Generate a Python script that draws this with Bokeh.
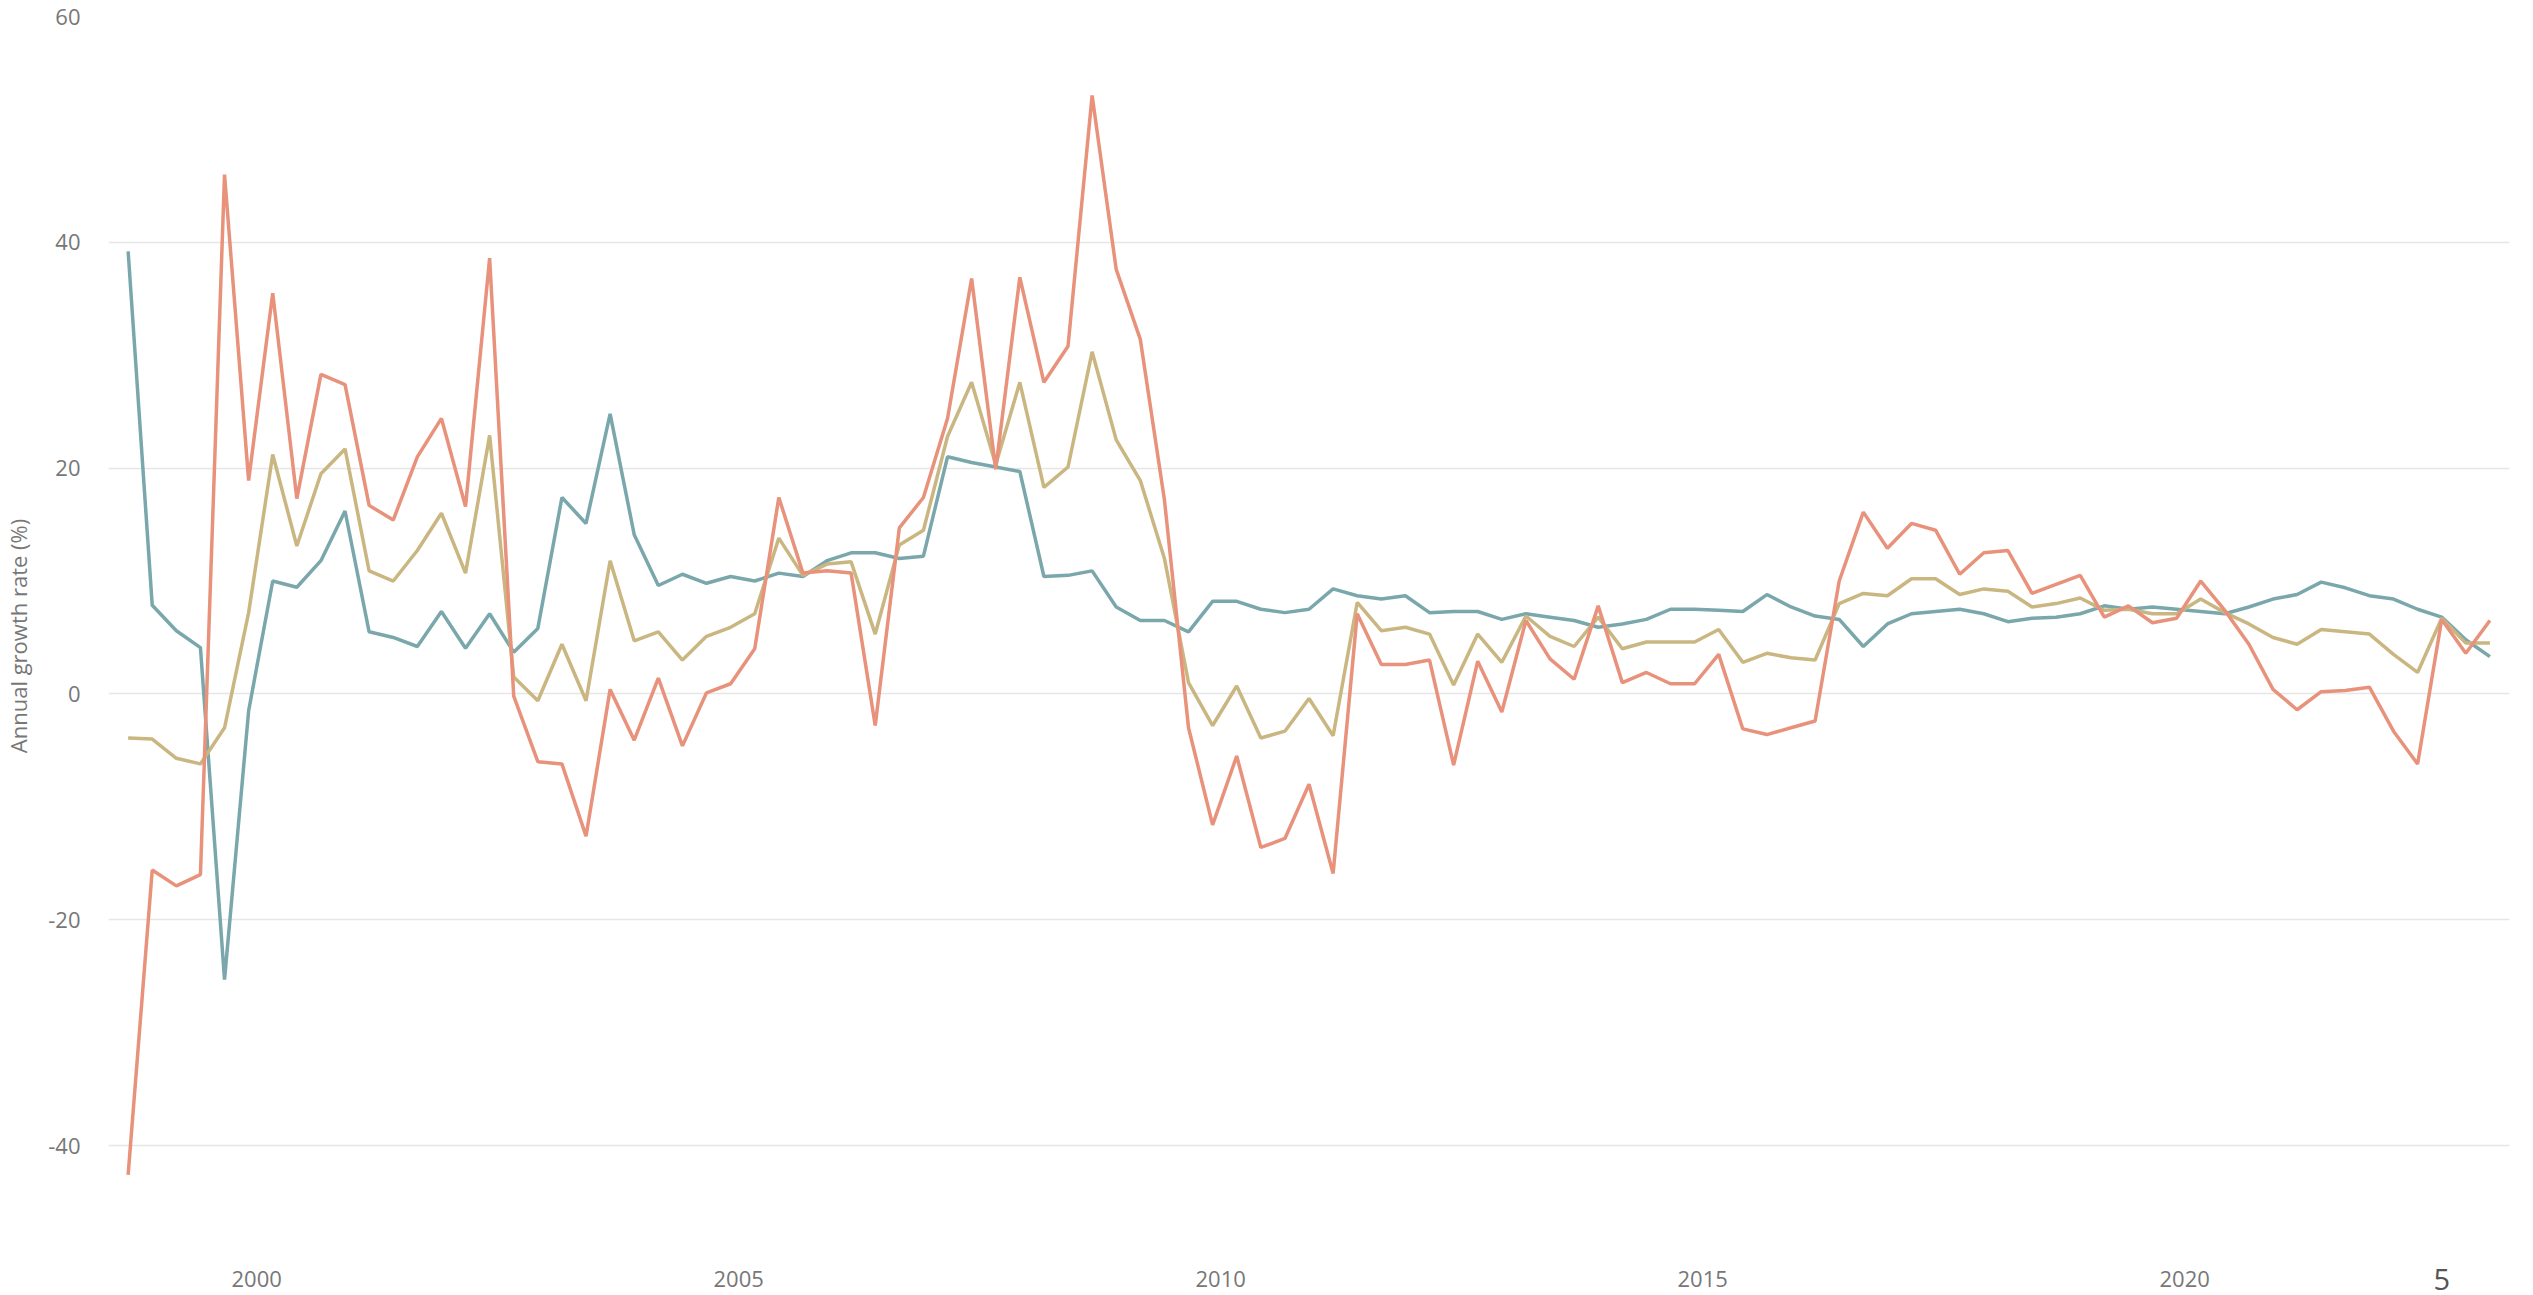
import pandas as pd
from bokeh.plotting import figure
from bokeh.models import FixedTicker, Range1d, LinearAxis, ColumnDataSource
from bokeh.embed import file_html
from bokeh.resources import INLINE

# Quarterly observations, Sep 1998 .. Mar 2023
quarters = pd.date_range("1998-09-01", periods=99, freq="3MS")

series_teal = [
    39.2, 7.85, 5.6, 4.1, -25.3, -1.5, 10.0, 9.45, 11.8, 16.2,
    5.5, 5.0, 4.2, 7.3, 4.05, 7.1, 3.7, 5.8, 17.4, 15.1,
    24.8, 14.1, 9.6, 10.6, 9.8, 10.4, 10.0, 10.7, 10.4, 11.8,
    12.5, 12.5, 12.0, 12.2, 21.0, 20.5, 20.1, 19.7, 10.4, 10.5,
    10.9, 7.7, 6.5, 6.5, 5.5, 8.2, 8.2, 7.5, 7.2, 7.5,
    9.3, 8.7, 8.4, 8.7, 7.2, 7.3, 7.3, 6.6, 7.1, 6.8,
    6.5, 5.9, 6.2, 6.6, 7.5, 7.5, 7.4, 7.3, 8.8, 7.7,
    6.9, 6.6, 4.2, 6.2, 7.1, 7.3, 7.5, 7.1, 6.4, 6.7,
    6.8, 7.1, 7.8, 7.5, 7.7, 7.5, 7.3, 7.1, 7.7, 8.4,
    8.8, 9.9, 9.4, 8.7, 8.4, 7.5, 6.8, 4.8, 3.3,
]

series_salmon = [
    -42.6, -15.6, -17.0, -16.0, 46.0, 18.9, 35.5, 17.3, 28.3, 27.4,
    16.7, 15.4, 21.0, 24.4, 16.6, 38.6, -0.2, -6.0, -6.2, -12.6,
    0.4, -4.1, 1.4, -4.6, 0.1, 0.9, 4.0, 17.4, 10.7, 10.9,
    10.7, -2.8, 14.7, 17.4, 24.4, 36.8, 19.9, 36.9, 27.6, 30.8,
    53.0, 37.6, 31.4, 17.2, -3.0, -11.6, -5.5, -13.6, -12.8, -8.0,
    -15.9, 7.1, 2.6, 2.6, 3.0, -6.3, 2.9, -1.6, 6.5, 3.1,
    1.3, 7.8, 1.0, 1.9, 0.9, 0.9, 3.5, -3.1, -3.6, -3.0,
    -2.4, 10.0, 16.1, 12.9, 15.1, 14.5, 10.6, 12.5, 12.7, 8.9,
    9.7, 10.5, 6.8, 7.8, 6.3, 6.7, 10.0, 7.4, 4.4, 0.4,
    -1.4, 0.2, 0.3, 0.6, -3.3, -6.2, 6.6, 3.6, 6.5,
]

series_khaki = [
    -3.9, -4.0, -5.7, -6.2, -3.0, 7.2, 21.2, 13.1, 19.5, 21.7,
    10.9, 10.0, 12.7, 16.0, 10.7, 22.9, 1.5, -0.6, 4.4, -0.6,
    11.8, 4.7, 5.5, 3.0, 5.1, 5.9, 7.1, 13.8, 10.5, 11.5,
    11.7, 5.3, 13.2, 14.5, 22.8, 27.6, 20.3, 27.6, 18.3, 20.1,
    30.3, 22.5, 18.9, 12.0, 1.0, -2.8, 0.7, -3.9, -3.3, -0.4,
    -3.7, 8.1, 5.6, 5.9, 5.3, 0.8, 5.3, 2.8, 6.9, 5.1,
    4.2, 6.8, 4.0, 4.6, 4.6, 4.6, 5.7, 2.8, 3.6, 3.2,
    3.0, 8.0, 8.9, 8.7, 10.2, 10.2, 8.8, 9.3, 9.1, 7.7,
    8.0, 8.5, 7.4, 7.5, 7.1, 7.1, 8.4, 7.2, 6.2, 5.0,
    4.4, 5.7, 5.5, 5.3, 3.5, 1.9, 6.7, 4.5, 4.5,
]

year_ticks = [2000, 2005, 2010, 2015, 2020]
y_ticks = [-40, -20, 0, 20, 40, 60]
y_tick_labels = {-40: "-40", -20: "-20", 0: "0", 20: "20", 40: "40", 60: "60"}
stray_label_text = "5"
stray_label_date = pd.Timestamp("2022-09-01")

def decimal_year(ts):
    return ts.year + (ts.month - 1) / 12.0

x = [decimal_year(q) for q in quarters]
source = ColumnDataSource(dict(x=x, teal=series_teal, salmon=series_salmon, khaki=series_khaki))

FONT = "Open Sans"
TICK_COLOR = "#777777"

p = figure(
    width=2533, height=1295,
    x_range=Range1d(1998.463, 2023.37),
    y_range=Range1d(-49.74, 60),
    output_backend="svg", toolbar_location=None,
    min_border_left=107, min_border_right=24, min_border_top=16, min_border_bottom=40,
)
p.outline_line_color = None
p.background_fill_color = "white"
p.border_fill_color = "white"

p.xgrid.grid_line_color = None
p.ygrid.grid_line_color = "#e6e6e6"
p.ygrid.grid_line_width = 1.5

main_xaxis = p.xaxis[0]
main_xaxis.ticker = FixedTicker(ticks=year_ticks)
p.yaxis.ticker = FixedTicker(ticks=y_ticks)
p.yaxis.major_label_overrides = y_tick_labels

for ax in (p.xaxis, p.yaxis):
    ax.axis_line_color = None
    ax.major_tick_line_color = None
    ax.minor_tick_line_color = None
    ax.major_label_text_font = FONT
    ax.major_label_text_font_size = "22px"
    ax.major_label_text_color = TICK_COLOR

p.yaxis.major_label_standoff = 22
p.yaxis.axis_label = "Annual growth rate (%)"
p.yaxis.axis_label_text_font = FONT
p.yaxis.axis_label_text_font_size = "22px"
p.yaxis.axis_label_text_font_style = "normal"
p.yaxis.axis_label_text_color = TICK_COLOR
p.yaxis.axis_label_standoff = 12

# lone "5" label under the axis, drawn by a second bottom axis placed next to the frame
stray_pos = decimal_year(stray_label_date)
extra_axis = LinearAxis(
    ticker=FixedTicker(ticks=[stray_pos]),
    major_label_overrides={stray_pos: stray_label_text},
    axis_line_color=None, major_tick_line_color=None, minor_tick_line_color=None,
    major_label_text_font=FONT, major_label_text_font_size="29px",
    major_label_text_color="#555555", major_label_standoff=7,
)
# year axis sits after it, pulled back up with a negative standoff
main_xaxis.major_label_standoff = -28
p.below = [extra_axis, main_xaxis]

p.line("x", "teal", source=source, line_color="#7aa7ab", line_width=3.5)
p.line("x", "khaki", source=source, line_color="#c9b680", line_width=3.5)
p.line("x", "salmon", source=source, line_color="#e8917b", line_width=3.5)

open("out.html", "w").write(file_html(p, INLINE))
